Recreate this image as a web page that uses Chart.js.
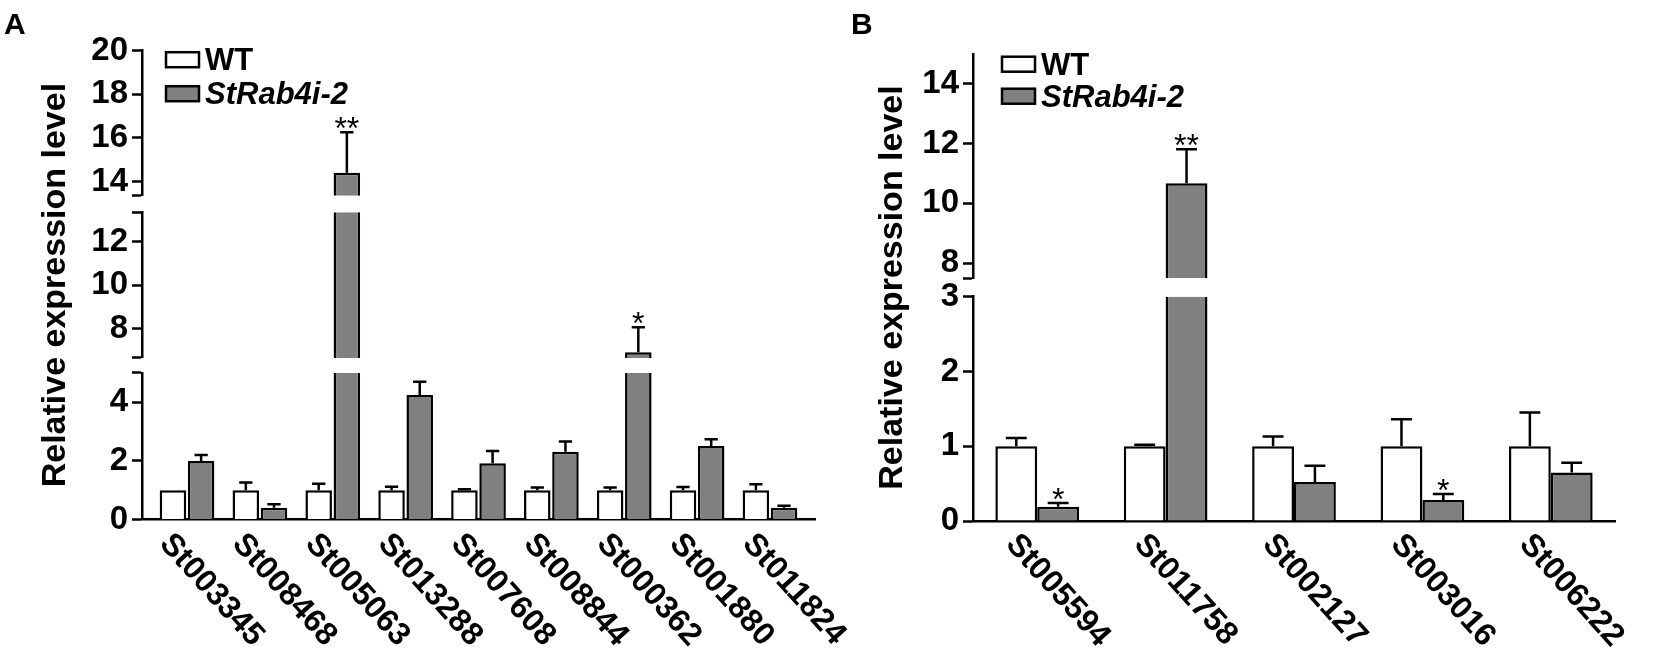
<!DOCTYPE html>
<html>
<head>
<meta charset="utf-8">
<title>Relative expression level</title>
<script src="https://cdn.jsdelivr.net/npm/chart.js@4.4.1/dist/chart.umd.min.js"></script>
<style>
  html, body { margin: 0; padding: 0; background: #fff; }
  #wrap { position: relative; width: 1654px; height: 652px; }
  .panel { position: absolute; top: 0; height: 652px; }
  #panelA { left: 0; width: 860px; }
  #panelB { left: 830px; width: 824px; }
</style>
</head>
<body>
<div id="wrap">
  <div class="panel" id="panelA"><canvas id="chartA"></canvas></div>
  <div class="panel" id="panelB"><canvas id="chartB"></canvas></div>
</div>
<script>
const seriesNames = ["WT", "StRab4i-2"];
const yTitle = "Relative expression level";

// panel A
const genesA = ["St003345", "St008468", "St005063", "St013288", "St007608", "St008844", "St000362", "St001880", "St011824"];
const wtA = [1, 1, 1, 1, 1, 1, 1, 1, 1];
const wtErrA = [0, 0.26, 0.22, 0.12, 0.03, 0.09, 0.09, 0.11, 0.2];
const rabA = [2.0, 0.4, 14.4, 4.25, 1.92, 2.31, 6.91, 2.51, 0.4];
const rabErrA = [0.2, 0.12, 1.86, 0.45, 0.42, 0.35, 1.15, 0.23, 0.07];
const starsA = ["", "", "**", "", "", "", "*", "", ""];
const yTicksA = [[0, 2, 4], [8, 10, 12], [14, 16, 18, 20]];

// panel B
const genesB = ["St005594", "St011758", "St002127", "St003016", "St006222"];
const wtB = [1, 1, 1, 1, 1];
const wtErrB = [0.11, 0.02, 0.13, 0.36, 0.45];
const rabB = [0.19, 10.67, 0.52, 0.28, 0.65];
const rabErrB = [0.05, 1.14, 0.22, 0.08, 0.13];
const starsB = ["*", "**", "", "*", ""];
const yTicksB = [[0, 1, 2, 3], [8, 10, 12, 14]];

const FONT = '"Liberation Sans", Arial, sans-serif';
Chart.defaults.font.family = FONT;
Chart.defaults.color = "#000";

function segmentTicks(seg, labeled) {
    const vals = labeled.slice();
    if (!vals.includes(seg.min)) vals.push(seg.min);
    if (seg.mark !== false && !vals.includes(seg.max)) vals.push(seg.max);
    return vals.sort((a, b) => a - b);
}

function findSegment(segs, v) {
    let k = 0;
    segs.forEach((s, i) => { if (v >= s.min) k = i; });
    return k;
}

function makeChart(canvasId, p) {
    const fills = ["#ffffff", "#808080"];
    const series = [
        { values: p.wt, err: p.wtErr, stars: null, stack: "wt" },
        { values: p.rab, err: p.rabErr, stars: p.stars, stack: "rab" }
    ];

    const scales = {
        x: {
            type: "linear", position: "bottom", offset: false, bounds: "data", z: 1,
            min: -0.5 - p.xPad, max: p.genes.length - 0.5 + p.xPad,
            grid: { display: false, drawTicks: false, offset: false },
            border: { color: "#000", width: 2.5 },
            ticks: { display: false },
            afterBuildTicks: ax => { ax.ticks = p.genes.map((g, i) => ({ value: i })); }
        }
    };
    const datasets = [];

    p.segments.forEach((seg, k) => {
        const tickVals = segmentTicks(seg, p.yTicks[k]);
        scales["y" + k] = {
            type: "linear", position: "left", stack: "seg", stackWeight: seg.weight,
            min: seg.min, max: seg.max, beginAtZero: false, stacked: false,
            afterBuildTicks: ax => { ax.ticks = tickVals.map(v => ({ value: v })); },
            grid: { drawOnChartArea: false, drawTicks: true, tickLength: 10, tickWidth: 2.5, tickColor: "#000" },
            border: { color: "#000", width: 2.5 },
            ticks: {
                autoSkip: false, padding: 4, color: "#000",
                font: { family: FONT, size: 33, weight: "bold" },
                callback: v => p.yTicks[k].includes(v) ? String(v) : ""
            }
        };
        if (k < p.segments.length - 1) {
            // empty axis = white break between two parts of the y axis
            scales["gap" + k] = {
                type: "linear", position: "left", stack: "seg", stackWeight: p.gaps[k],
                grid: { display: false, drawTicks: false },
                border: { display: false },
                ticks: { display: false }
            };
        }
        series.forEach((s, si) => {
            datasets.push({
                label: seriesNames[si],
                data: s.values.map((v, i) => ({ x: i, y: v })),
                yAxisID: "y" + k,
                stack: s.stack,
                backgroundColor: fills[si],
                borderColor: "#000",
                borderWidth: 2.5,
                categoryPercentage: p.catPct,
                barPercentage: p.barPct
            });
        });
    });

    scales.yTitle = {
        type: "linear", position: "left",
        grid: { display: false, drawTicks: false },
        border: { display: false },
        ticks: { display: false },
        title: {
            display: true, text: yTitle, color: "#000",
            font: { family: FONT, size: 34, weight: "bold" },
            padding: { top: 0, bottom: p.titlePad }
        }
    };

    // each dataset only shows inside its own part of the broken axis
    const clipPlugin = {
        id: "segmentClip",
        beforeDatasetDraw(chart, args) {
            const ys = chart.scales[args.meta.yAxisID];
            const a = chart.chartArea;
            chart.ctx.save();
            chart.ctx.beginPath();
            chart.ctx.rect(a.left - 5, ys.top, a.width + 10, ys.bottom - ys.top);
            chart.ctx.clip();
        },
        afterDatasetDraw(chart) {
            chart.ctx.restore();
        }
    };

    const errorPlugin = {
        id: "errorBars",
        afterDatasetsDraw(chart) {
            const ctx = chart.ctx;
            series.forEach((s, si) => {
                s.values.forEach((v, i) => {
                    const k = findSegment(p.segments, v);
                    const bar = chart.getDatasetMeta(k * 2 + si).data[i];
                    const ys = chart.scales["y" + k];
                    const y0 = ys.getPixelForValue(v);
                    const y1 = ys.getPixelForValue(v + s.err[i]);
                    const half = bar.width * 0.25;
                    ctx.save();
                    ctx.strokeStyle = "#000";
                    ctx.lineWidth = 2.5;
                    if (s.err[i] > 0) {
                        ctx.beginPath();
                        ctx.moveTo(bar.x, y0);
                        ctx.lineTo(bar.x, y1);
                        ctx.moveTo(bar.x - half, y1);
                        ctx.lineTo(bar.x + half, y1);
                        ctx.stroke();
                    }
                    if (s.stars && s.stars[i]) {
                        ctx.fillStyle = "#000";
                        ctx.font = "32px " + FONT;
                        ctx.textAlign = "center";
                        ctx.textBaseline = "alphabetic";
                        ctx.fillText(s.stars[i], bar.x, y1 + 7);
                    }
                    ctx.restore();
                });
            });
        }
    };

    const textPlugin = {
        id: "panelText",
        afterDraw(chart) {
            const ctx = chart.ctx;
            const a = chart.chartArea;
            const xs = chart.scales.x;
            ctx.save();
            // panel letter
            ctx.fillStyle = "#000";
            ctx.font = "bold 30px " + FONT;
            ctx.textAlign = "left";
            ctx.textBaseline = "alphabetic";
            ctx.fillText(p.letter, p.letterX, 34);

            // legend
            seriesNames.forEach((name, si) => {
                const bx = a.left + p.legend.dx;
                const by = a.top + p.legend.dy + si * p.legend.row;
                ctx.fillStyle = fills[si];
                ctx.fillRect(bx, by, 33, 15);
                ctx.lineWidth = 2.5;
                ctx.strokeStyle = "#000";
                ctx.strokeRect(bx, by, 33, 15);
                ctx.fillStyle = "#000";
                ctx.font = (si === 1 ? "italic " : "") + "bold 31px " + FONT;
                ctx.fillText(name, bx + 39, by + 18);
            });

            // rotated gene names
            ctx.font = "bold 32px " + FONT;
            ctx.textBaseline = "middle";
            p.genes.forEach((g, i) => {
                const px = xs.getPixelForValue(i);
                ctx.save();
                ctx.translate(px - p.label.dx, a.bottom + p.label.dy);
                ctx.rotate(p.label.angle * Math.PI / 180);
                ctx.fillText(g, 0, 0);
                ctx.restore();
            });
            ctx.restore();
        }
    };

    return new Chart(document.getElementById(canvasId), {
        type: "bar",
        data: { datasets: datasets },
        options: {
            responsive: true,
            maintainAspectRatio: false,
            animation: false,
            layout: { padding: p.padding },
            plugins: { legend: { display: false }, tooltip: { enabled: false } },
            scales: scales
        },
        plugins: [clipPlugin, errorPlugin, textPlugin]
    });
}

makeChart("chartA", {
    letter: "A", letterX: 4,
    genes: genesA, wt: wtA, wtErr: wtErrA, rab: rabA, rabErr: rabErrA, stars: starsA,
    yTicks: yTicksA,
    segments: [
        { min: 0, max: 5, weight: 146.5 },
        { min: 6.65, max: 13.35, weight: 145.7 },
        { min: 13.35, max: 20, weight: 145 }
    ],
    gaps: [15, 16.5],
    xPad: 0.118, catPct: 0.773, barPct: 0.942,
    titlePad: 10.9,
    padding: { left: 35.6, right: 45, top: 50.7, bottom: 132.5 },
    legend: { dx: 24, dy: 1.5, row: 34 },
    label: { dx: 22, dy: 19, angle: 48 }
});

makeChart("chartB", {
    letter: "B", letterX: 21,
    genes: genesB, wt: wtB, wtErr: wtErrB, rab: rabB, rabErr: rabErrB, stars: starsB,
    yTicks: yTicksB,
    segments: [
        { min: 0, max: 3, weight: 224.3 },
        { min: 7.5, max: 15, weight: 224, mark: false }
    ],
    gaps: [18.7],
    xPad: 0, catPct: 0.652, barPct: 1.0,
    titlePad: 4.9,
    padding: { left: 42.6, right: 39, top: 54, bottom: 131 },
    legend: { dx: 29, dy: 2.7, row: 32 },
    label: { dx: 26, dy: 18, angle: 48 }
});
</script>
</body>
</html>
